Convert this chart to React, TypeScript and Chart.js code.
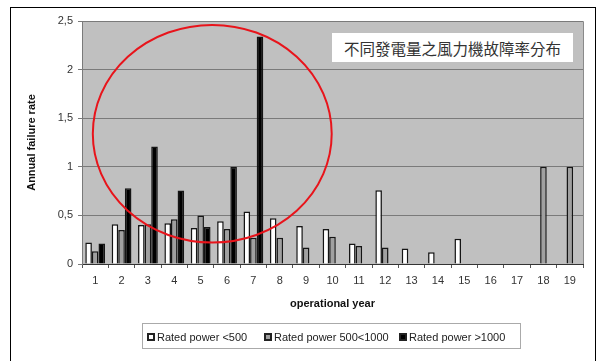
import React, { useEffect, useRef } from "react";
import { Chart, registerables } from "chart.js";

Chart.register(...registerables);

const categories = ["1","2","3","4","5","6","7","8","9","10","11","12","13","14","15","16","17","18","19"];
const seriesNames = ["Rated power <500", "Rated power 500<1000", "Rated power >1000"];
const lowPower = [0.22,0.41,0.40,0.42,0.37,0.44,0.54,0.47,0.39,0.36,0.21,0.76,0.16,0.12,0.26,null,null,null,null];
const midPower = [0.13,0.35,0.41,0.46,0.50,0.36,0.27,0.27,0.17,0.28,0.185,0.17,null,null,null,null,null,1.0,1.0];
const highPower = [0.21,0.78,1.21,0.755,0.38,1.0,2.34,null,null,null,null,null,null,null,null,null,null,null,null];
const yTicks = [0, 0.5, 1, 1.5, 2, 2.5];
const annotationText = "不同發電量之風力機故障率分布";

const FONT = "'Liberation Sans', Arial, sans-serif";
const colors = ["#ffffff", "#a0a0a0", "#000000"];

const bgPlugin = {
  id: "plotBg",
  beforeDraw(chart: any) {
    const { ctx, chartArea } = chart;
    ctx.save();
    ctx.fillStyle = "#c0c0c0";
    ctx.fillRect(chartArea.left, chartArea.top, chartArea.right - chartArea.left, chartArea.bottom - chartArea.top);
    ctx.strokeStyle = "#8a8a8a";
    ctx.lineWidth = 1;
    ctx.beginPath();
    ctx.moveTo(chartArea.left, chartArea.top + 0.5);
    ctx.lineTo(chartArea.right + 0.5, chartArea.top + 0.5);
    ctx.lineTo(chartArea.right + 0.5, chartArea.bottom);
    ctx.stroke();
    ctx.restore();
  },
};

const ellipsePlugin = {
  id: "redEllipse",
  afterDatasetsDraw(chart: any) {
    const { ctx } = chart;
    const xs = chart.scales.x;
    const ys = chart.scales.y;
    const p0 = xs.getPixelForTick(0);
    const p1 = xs.getPixelForTick(1);
    const cw = p1 - p0;
    const cx = p0 + 4.44 * cw;
    const rx = 4.53 * cw;
    const cy = ys.getPixelForValue(1.34);
    const ry = ys.getPixelForValue(0) - ys.getPixelForValue(1.12);
    ctx.save();
    ctx.strokeStyle = "#e8141b";
    ctx.lineWidth = 2;
    ctx.beginPath();
    ctx.ellipse(cx, cy, rx, ry, 0, 0, Math.PI * 2);
    ctx.stroke();
    ctx.restore();
  },
};

export default function App() {
  const ref = useRef<HTMLCanvasElement | null>(null);

  useEffect(() => {
    if (!ref.current) return;
    const chart = new Chart(ref.current, {
      type: "bar",
      data: {
        labels: categories,
        datasets: [lowPower, midPower, highPower].map((d, i) => ({
          label: seriesNames[i],
          data: d,
          backgroundColor: colors[i],
          borderColor: "#151515",
          borderWidth: 1.5,
          categoryPercentage: 0.75,
          barPercentage: 1.0,
        })),
      },
      options: {
        animation: false,
        responsive: false,
        events: [],
        layout: { padding: { left: 10, top: 21, right: 16, bottom: 47 } },
        plugins: {
          legend: { display: false },
          tooltip: { enabled: false },
        },
        scales: {
          x: {
            grid: { offset: true, drawOnChartArea: false, drawTicks: true, tickLength: 4, color: "#555" },
            border: { color: "#333", width: 1 },
            ticks: { color: "#333", font: { family: FONT, size: 11 }, padding: 6 },
            title: {
              display: true,
              text: "operational year",
              color: "#111",
              font: { family: FONT, size: 11, weight: "bold" },
              padding: { top: 0, bottom: 3 },
            },
            afterFit(s: any) { s.height = 50; },
          },
          y: {
            min: 0,
            max: 2.5,
            afterBuildTicks(s: any) { s.ticks = yTicks.map((v) => ({ value: v })); },
            grid: { color: "#7a7a7a", tickLength: 4, lineWidth: 1 },
            border: { color: "#7a7a7a", width: 1 },
            ticks: {
              color: "#333",
              font: { family: FONT, size: 11 },
              padding: 5,
              callback: (v: any) => String(v).replace(".", ","),
            },
            title: {
              display: true,
              text: "Annual failure rate",
              color: "#111",
              font: { family: FONT, size: 11, weight: "bold" },
              padding: { top: 15, bottom: 0 },
            },
            afterFit(s: any) { s.width = 72; },
          },
        },
      },
      plugins: [bgPlugin, ellipsePlugin],
    });
    return () => chart.destroy();
  }, []);

  const legendItem = (i: number, left: number) => (
    <div key={i} style={{ position: "absolute", left, top: 0, height: 26, display: "flex", alignItems: "center" }}>
      <div style={{ width: 8, height: 8, boxSizing: "border-box", border: "2px solid #222", background: colors[i], marginRight: 2 }} />
      <span style={{ font: `11px ${FONT}`, color: "#222", whiteSpace: "nowrap" }}>{seriesNames[i]}</span>
    </div>
  );

  return (
    <div style={{ position: "fixed", left: 0, top: 0, width: 599, height: 361, background: "#fff", overflow: "hidden" }}>
      <canvas ref={ref} width={599} height={361} style={{ position: "absolute", left: 0, top: 0, width: 599, height: 361 }} />
      <div style={{ position: "absolute", left: 10, top: 7, width: 586, height: 400, borderLeft: "1.5px solid #000", borderTop: "1.5px solid #000", borderRight: "1.5px solid #000", boxSizing: "border-box", pointerEvents: "none" }} />
      <div style={{ position: "absolute", left: 332, top: 33, width: 241, height: 29, background: "#fff", display: "flex", alignItems: "center", justifyContent: "center", font: `15.5px 'Noto Sans CJK TC', sans-serif`, color: "#333" }}>
        {annotationText}
      </div>
      <div style={{ position: "absolute", left: 142, top: 323, width: 379, height: 26, border: "1px solid #aaa", boxSizing: "border-box", background: "#fff" }}>
        {legendItem(0, 4)}
        {legendItem(1, 121)}
        {legendItem(2, 256)}
      </div>
    </div>
  );
}
